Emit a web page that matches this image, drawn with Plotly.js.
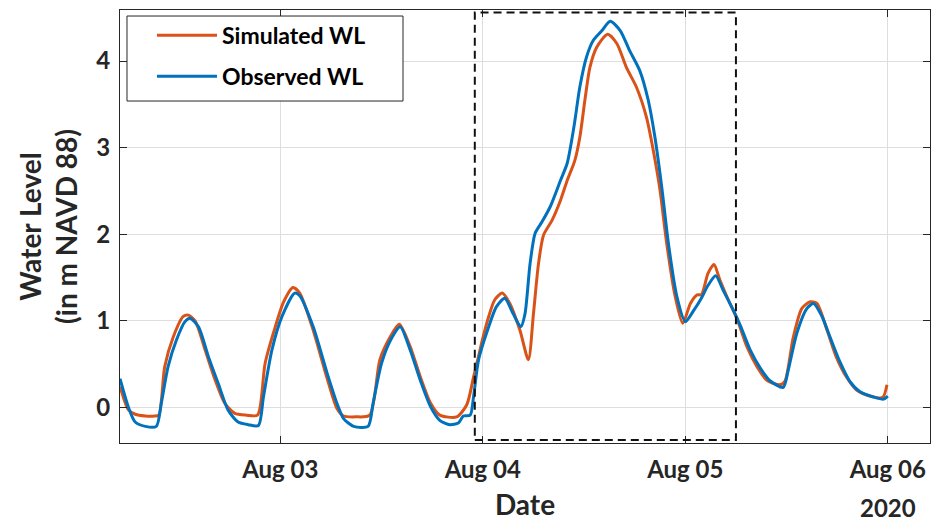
<!DOCTYPE html>
<html><head><meta charset="utf-8">
<script src="https://cdn.plot.ly/plotly-3.0.1.min.js"></script>
<style>html,body{margin:0;padding:0;background:#fff}#chart{width:931px;height:521px}</style>
</head><body><div id="chart"></div>
<script>
// hours since 2020-08-02 00:00
const startDate = Date.UTC(2020, 7, 2, 0, 0, 0);
const simHours = [5,6.0,6.8,8.0,9.1,9.6,10.3,11.3,12.5,13.1,13.9,15.1,16.3,17.4,18.6,20.0,21.3,22.2,23.4,24.4,25.5,26.3,27.9,29.5,30.7,31.5,33.0,34.6,35.8,37.0,38.1,39.4,40.6,41.8,42.9,44.9,46.1,46.9,47.4,48.0,48.7,49.4,50.3,51.2,52.4,53.4,54.0,54.6,55.2,56.2,57.2,58.0,58.9,59.5,60.1,60.7,61.5,62.8,63.9,65.0,66.2,67.4,68.2,69.0,69.8,70.8,71.7,72.6,73.4,73.9,74.7,75.4,76.1,77.1,78.1,79.3,80.5,81.7,83.2,83.8,84.8,85.8,86.8,87.6,88.8,89.9,91.1,92.3,93.9,95.4,95.9];
const simLevel = [0.24,-0.03,-0.08,-0.10,-0.10,-0.09,0.47,0.81,1.05,1.065,1.0,0.66,0.31,0.05,-0.07,-0.09,-0.09,0.51,0.93,1.22,1.385,1.32,0.89,0.35,-0.01,-0.10,-0.11,-0.09,0.55,0.81,0.96,0.70,0.35,0.05,-0.09,-0.11,0.03,0.35,0.55,0.80,1.05,1.24,1.32,1.20,0.89,0.55,1.08,1.66,1.99,2.16,2.39,2.62,2.85,3.12,3.55,3.93,4.16,4.31,4.20,3.93,3.70,3.35,2.97,2.51,1.89,1.28,0.97,1.20,1.30,1.30,1.55,1.65,1.47,1.24,1.03,0.70,0.47,0.31,0.26,0.30,0.81,1.14,1.22,1.20,0.89,0.58,0.35,0.20,0.13,0.115,0.26];
const obsHours = [5,6.0,6.8,8.0,9.3,9.9,10.7,11.7,12.7,13.3,14.3,15.5,16.7,17.8,19.0,20.2,21.4,22.0,23.0,24.2,25.7,26.3,27.9,29.5,30.7,31.5,32.7,34.4,35.0,36.0,37.2,38.2,39.4,40.6,41.8,42.9,44.1,45.1,45.7,46.5,46.9,47.5,48.7,49.6,50.6,51.6,52.5,53.0,53.6,54.2,55.0,56.0,57.2,58.0,58.8,59.5,60.3,61.1,62.1,63.1,64.3,65.4,66.6,67.6,68.4,69.2,70.0,71.0,72.0,73.0,73.9,74.7,75.6,76.5,77.7,78.5,79.7,80.9,82.0,83.6,84.2,85.2,86.4,87.2,88.2,89.2,90.3,91.5,92.7,94.3,95.5,96.0];
const obsLevel = [0.33,0.0,-0.17,-0.22,-0.22,0.05,0.47,0.78,0.99,1.03,0.93,0.58,0.26,-0.03,-0.17,-0.20,-0.21,0.12,0.66,1.05,1.32,1.29,0.93,0.41,0.05,-0.13,-0.22,-0.22,0.05,0.51,0.80,0.93,0.66,0.31,0.01,-0.15,-0.20,-0.18,-0.10,-0.09,0.12,0.55,0.93,1.16,1.26,1.08,0.93,1.08,1.66,2.01,2.14,2.32,2.62,2.82,3.24,3.70,4.05,4.24,4.35,4.46,4.35,4.12,3.89,3.55,3.12,2.55,1.89,1.28,0.99,1.12,1.26,1.41,1.52,1.35,1.12,0.95,0.66,0.45,0.31,0.23,0.43,0.85,1.14,1.20,1.05,0.80,0.53,0.30,0.18,0.12,0.095,0.13];
const tickDates = ['2020-08-03','2020-08-04','2020-08-05','2020-08-06'];
const tickLabels = ['Aug 03','Aug 04','Aug 05','Aug 06'];
const yearLabel = '2020';
const seriesNames = ['Simulated WL', 'Observed WL'];
const yTicks = [0, 1, 2, 3, 4];
const focusStart = '2020-08-03 23:03', focusEnd = '2020-08-05 06:00';
const focusLow = -0.378, focusHigh = 4.56;

function toDate(h) {
  const d = new Date(startDate + h * 3600000);
  return d.toISOString().slice(0, 19).replace('T', ' ');
}

const FONT = 'Lato, "Open Sans", sans-serif';
const AX = '#262626';

const traces = [
  {x: simHours.map(toDate), y: simLevel, name: seriesNames[0], type: 'scatter', mode: 'lines',
   line: {color: '#D95319', width: 3, shape: 'spline', smoothing: 0.7}, legendgroup: 'a'},
  {x: obsHours.map(toDate), y: obsLevel, name: seriesNames[1], type: 'scatter', mode: 'lines',
   line: {color: '#0072BD', width: 3, shape: 'spline', smoothing: 0.7}, legendgroup: 'b'}
];

const layout = {
  width: 931, height: 521,
  margin: {l: 120, r: 1, t: 10, b: 78},
  paper_bgcolor: '#fff', plot_bgcolor: '#fff',
  font: {family: FONT, color: AX, size: 24, weight: 'bold'},
  showlegend: true,
  legend: {x: 0.0395, y: 0.991, xanchor: 'left', yanchor: 'top', bgcolor: 'rgba(0,0,0,0)',
    borderwidth: 0, font: {family: FONT, size: 23, color: '#000', weight: 'bold'},
    itemwidth: 60, tracegroupgap: 8},
  xaxis: {type: 'date', range: ['2020-08-02 05:00', '2020-08-06 05:00'],
    tickmode: 'array', tickvals: tickDates, ticktext: tickLabels,
    showgrid: true, gridcolor: '#dedede', gridwidth: 1, zeroline: false,
    showline: true, linecolor: AX, linewidth: 1, mirror: 'ticks',
    ticks: 'inside', ticklen: 7, tickcolor: AX, tickwidth: 1,
    tickfont: {family: FONT, size: 24, color: AX, weight: 'bold'},
    ticklabelstandoff: 5,
    title: {text: 'Date', font: {family: FONT, size: 28, color: AX, weight: 'bold'}, standoff: 17},
    automargin: false},
  yaxis: {range: [-0.412, 4.59], tickmode: 'array', tickvals: yTicks,
    showgrid: true, gridcolor: '#dedede', gridwidth: 1, zeroline: false,
    showline: true, linecolor: AX, linewidth: 1, mirror: 'ticks',
    ticks: 'inside', ticklen: 7, tickcolor: AX, tickwidth: 1,
    tickfont: {family: FONT, size: 24, color: AX, weight: 'bold'},
    ticklabelstandoff: 4,
    title: {text: 'Water Level<br>(in m NAVD 88)', font: {family: FONT, size: 28, color: AX, weight: 'bold'}, standoff: 10},
    automargin: false},
  shapes: [
    {type: 'rect', xref: 'x', yref: 'y', x0: focusStart, x1: focusEnd, y0: focusLow, y1: focusHigh,
     line: {color: '#111', width: 2, dash: '8px,5px'}, fillcolor: 'rgba(0,0,0,0)', layer: 'above'},
    {type: 'rect', xref: 'paper', yref: 'paper', x0: 0.00864, x1: 0.3494, y0: 0.7898, y1: 0.9861,
     line: {color: AX, width: 1}, fillcolor: '#fff', layer: 'above'}
  ],
  annotations: [
    {x: tickDates[3], xref: 'x', y: -0.148, yref: 'paper', text: yearLabel, showarrow: false,
     xanchor: 'center', yanchor: 'middle', font: {family: FONT, size: 24, color: AX, weight: 'bold'}}
  ]
};

Plotly.newPlot('chart', traces, layout, {displayModeBar: false, staticPlot: true});
</script></body></html>
